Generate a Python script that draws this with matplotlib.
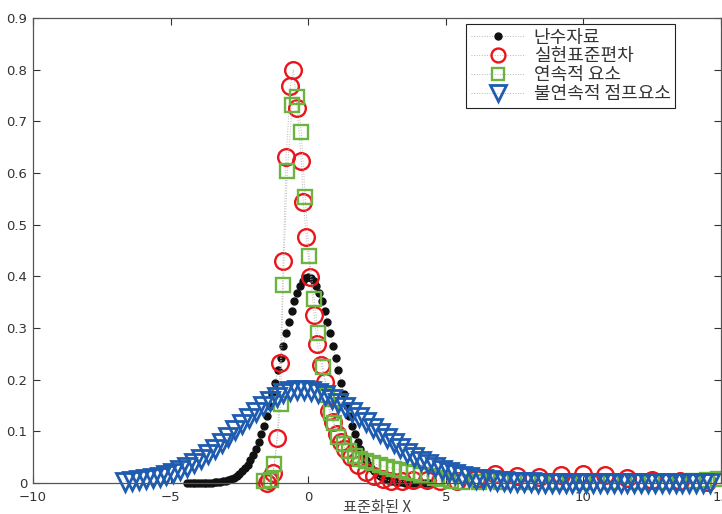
import matplotlib

matplotlib.use("Agg")
import matplotlib.pyplot as plt

plt.rcParams["font.family"] = ["DejaVu Sans", "Noto Sans CJK KR"]

# 난수자료 (black dots)
black_x = [-4.4, -4.3, -4.2, -4.1, -4.0, -3.9, -3.8, -3.7, -3.6, -3.5, -3.4, -3.3, -3.2, -3.1, -3.0,
           -2.9, -2.8, -2.7, -2.6, -2.5, -2.4, -2.3, -2.2, -2.1, -2.0, -1.9, -1.8, -1.7, -1.6, -1.5,
           -1.4, -1.3, -1.2, -1.1, -1.0, -0.9, -0.8, -0.7, -0.6, -0.5, -0.4, -0.3, -0.2, -0.1, 0.0,
           0.1, 0.2, 0.3, 0.4, 0.5, 0.6, 0.7, 0.8, 0.9, 1.0, 1.1, 1.2, 1.3, 1.4, 1.5,
           1.6, 1.7, 1.8, 1.9, 2.0, 2.1, 2.2, 2.3, 2.4, 2.5, 2.6, 2.7, 2.8, 2.9, 3.0,
           3.1, 3.2, 3.3, 3.4, 3.5, 3.6, 3.7, 3.8, 3.9, 4.0, 4.1, 4.2, 4.3, 4.4]
black_y = [0.0000, 0.0000, 0.0001, 0.0001, 0.0001, 0.0002, 0.0003, 0.0004, 0.0006, 0.0009, 0.0012,
           0.0017, 0.0024, 0.0033, 0.0044, 0.0060, 0.0079, 0.0104, 0.0136, 0.0175, 0.0224, 0.0283,
           0.0355, 0.0440, 0.0540, 0.0656, 0.0790, 0.0940, 0.1109, 0.1295, 0.1497, 0.1714, 0.1942,
           0.2179, 0.2420, 0.2661, 0.2897, 0.3123, 0.3332, 0.3521, 0.3683, 0.3814, 0.3910, 0.3970,
           0.3989, 0.3970, 0.3910, 0.3814, 0.3683, 0.3521, 0.3332, 0.3123, 0.2897, 0.2661, 0.2420,
           0.2179, 0.1942, 0.1714, 0.1497, 0.1295, 0.1109, 0.0940, 0.0790, 0.0656, 0.0540, 0.0440,
           0.0355, 0.0283, 0.0224, 0.0175, 0.0136, 0.0104, 0.0079, 0.0060, 0.0044, 0.0033, 0.0024,
           0.0017, 0.0012, 0.0009, 0.0006, 0.0004, 0.0003, 0.0002, 0.0001, 0.0001, 0.0001, 0.0000,
           0.0000]

# 실현표준편차 (red circles)
red_x = [-1.49, -1.41, -1.27, -1.12, -1.01, -0.91, -0.80, -0.65, -0.54, -0.40, -0.25, -0.18,
         -0.07, 0.08, 0.22, 0.33, 0.48, 0.62, 0.76, 0.90, 1.05, 1.20, 1.35, 1.55, 1.80, 2.10,
         2.40, 2.70, 3.00, 3.40, 3.80, 4.30, 4.80, 5.40, 6.10, 6.80, 7.60, 8.40, 9.20, 10.00,
         10.80, 11.60, 12.50, 13.50, 14.50]
red_y = [0.000, 0.006, 0.019, 0.087, 0.232, 0.430, 0.631, 0.768, 0.800, 0.726, 0.623, 0.544,
         0.476, 0.399, 0.325, 0.269, 0.228, 0.195, 0.140, 0.118, 0.095, 0.080, 0.065, 0.050,
         0.035, 0.022, 0.014, 0.008, 0.004, 0.003, 0.005, 0.006, 0.004, 0.003, 0.008, 0.018,
         0.014, 0.012, 0.016, 0.018, 0.016, 0.010, 0.006, 0.004, 0.002]

# 연속적 요소 (green squares)
green_x = [-1.59, -1.34, -1.23, -1.00, -0.91, -0.76, -0.58, -0.40, -0.25, -0.11, 0.04, 0.22,
           0.36, 0.54, 0.70, 0.83, 0.94, 1.10, 1.30, 1.50, 1.70, 1.90, 2.10, 2.35, 2.60, 2.85,
           3.10, 3.35, 3.60, 3.85, 4.10, 4.35, 4.60, 4.85, 5.20, 5.60, 6.20, 7.00, 8.00, 9.00,
           10.00, 11.00, 12.00, 13.00, 14.00, 14.50, 14.90]
green_y = [0.004, 0.006, 0.037, 0.153, 0.383, 0.604, 0.732, 0.747, 0.679, 0.553, 0.440, 0.356,
           0.290, 0.225, 0.170, 0.135, 0.116, 0.090, 0.075, 0.062, 0.052, 0.046, 0.042, 0.038,
           0.034, 0.031, 0.028, 0.025, 0.022, 0.019, 0.016, 0.013, 0.010, 0.007, 0.004, 0.002,
           0.001, 0.001, 0.001, 0.001, 0.001, 0.001, 0.001, 0.002, 0.003, 0.005, 0.008]

# 불연속적 점프요소 (blue triangles)
blue_x = [-6.65, -6.40, -6.15, -5.90, -5.65, -5.40, -5.15, -4.90, -4.65, -4.40, -4.15, -3.90,
          -3.65, -3.40, -3.15, -2.90, -2.65, -2.40, -2.15, -1.90, -1.65, -1.40, -1.15, -0.90,
          -0.65, -0.40, -0.15, 0.10, 0.35, 0.60, 0.85, 1.10, 1.35, 1.60, 1.85, 2.10, 2.35, 2.60,
          2.85, 3.10, 3.35, 3.60, 3.85, 4.10, 4.35, 4.60, 4.85, 5.10, 5.35, 5.60, 5.85, 6.10,
          6.35, 6.60, 6.85, 7.10, 7.35, 7.60, 7.85, 8.10, 8.35, 8.60, 8.85, 9.10, 9.35, 9.60,
          9.85, 10.10, 10.35, 10.60, 10.85, 11.10, 11.35, 11.60, 11.85, 12.10, 12.35, 12.60,
          12.85, 13.10, 13.35, 13.60, 13.85, 14.10, 14.35, 14.60]
blue_y = [0.0028, 0.0039, 0.0053, 0.0071, 0.0094, 0.0123, 0.0158, 0.0202, 0.0255, 0.0317, 0.0389,
          0.0472, 0.0565, 0.0667, 0.0778, 0.0896, 0.1018, 0.1141, 0.1264, 0.1382, 0.1491, 0.1589,
          0.1671, 0.1734, 0.1777, 0.1798, 0.1797, 0.1779, 0.1745, 0.1695, 0.1632, 0.1557, 0.1472,
          0.1378, 0.1279, 0.1176, 0.1071, 0.0966, 0.0864, 0.0766, 0.0672, 0.0584, 0.0504, 0.0430,
          0.0364, 0.0305, 0.0253, 0.0208, 0.0170, 0.0137, 0.0110, 0.0087, 0.0068, 0.0053, 0.0041,
          0.0031, 0.0024, 0.0018, 0.0013, 0.0010, 0.0007, 0.0005, 0.0004, 0.0003, 0.0002, 0.0002,
          0.0001, 0.0001, 0.0001, 0.0001, 0.0000, 0.0000, 0.0000, 0.0000, 0.0000, 0.0000, 0.0000,
          0.0000, 0.0000, 0.0000, 0.0000, 0.0000, 0.0000, 0.0000, 0.0000, 0.0000]

labels = ["난수자료", "실현표준편차", "연속적 요소", "불연속적 점프요소"]

fig = plt.figure(figsize=(7.22, 5.14), dpi=100)
ax = fig.add_axes([33 / 722, 31 / 514, 688 / 722, 465 / 514])

line_kw = dict(linestyle=":", linewidth=0.7, color="#b8b8b8", clip_on=False)
ax.plot(black_x, black_y, marker="o", markersize=5, markerfacecolor="#111111",
        markeredgecolor="#111111", label=labels[0], **line_kw)
ax.plot(red_x, red_y, marker="o", markersize=12, markerfacecolor="none",
        markeredgecolor="#e8161c", markeredgewidth=1.7, label=labels[1], **line_kw)
ax.plot(green_x, green_y, marker="s", markersize=10.5, markerfacecolor="none",
        markeredgecolor="#6cb33f", markeredgewidth=1.7, label=labels[2], **line_kw)
ax.plot(blue_x, blue_y, marker="v", markersize=13.5, markerfacecolor="none",
        markeredgecolor="#1f5cb0", markeredgewidth=2.0, label=labels[3], **line_kw)

ax.set_xlim(-10, 15)
ax.set_ylim(0, 0.9)
ax.set_xticks([-10, -5, 0, 5, 10, 15])
ax.set_yticks([0, 0.1, 0.2, 0.3, 0.4, 0.5, 0.6, 0.7, 0.8, 0.9])
ax.set_yticklabels(["0", "0.1", "0.2", "0.3", "0.4", "0.5", "0.6", "0.7", "0.8", "0.9"])
ax.tick_params(direction="in", top=True, right=True, length=5, width=0.8,
               labelsize=9.5, colors="#333333", pad=4)
ax.tick_params(axis="x", pad=5.5)
for sp in ax.spines.values():
    sp.set_color("#555555")
    sp.set_linewidth(0.9)

ax.set_xlabel("표준화된 X", fontsize=11, color="#444444", labelpad=-3,
              family=["Noto Sans CJK KR", "DejaVu Sans"])

leg = ax.legend(loc="upper left", bbox_to_anchor=(466 / 722, 1 - 24 / 514),
                bbox_transform=fig.transFigure, borderaxespad=0, fancybox=False,
                framealpha=1, edgecolor="#222222", handlelength=3.0, handletextpad=0.5,
                labelspacing=0.05, borderpad=0.25, prop={"family": ["Noto Sans CJK KR"], "size": 13})
leg.get_frame().set_linewidth(0.8)
for t in leg.get_texts():
    t.set_color("#333333")
for h, ms in zip(leg.legend_handles, [5, 10, 9, 11]):
    h.set_markersize(ms)

fig.savefig("out.png", dpi=100)
